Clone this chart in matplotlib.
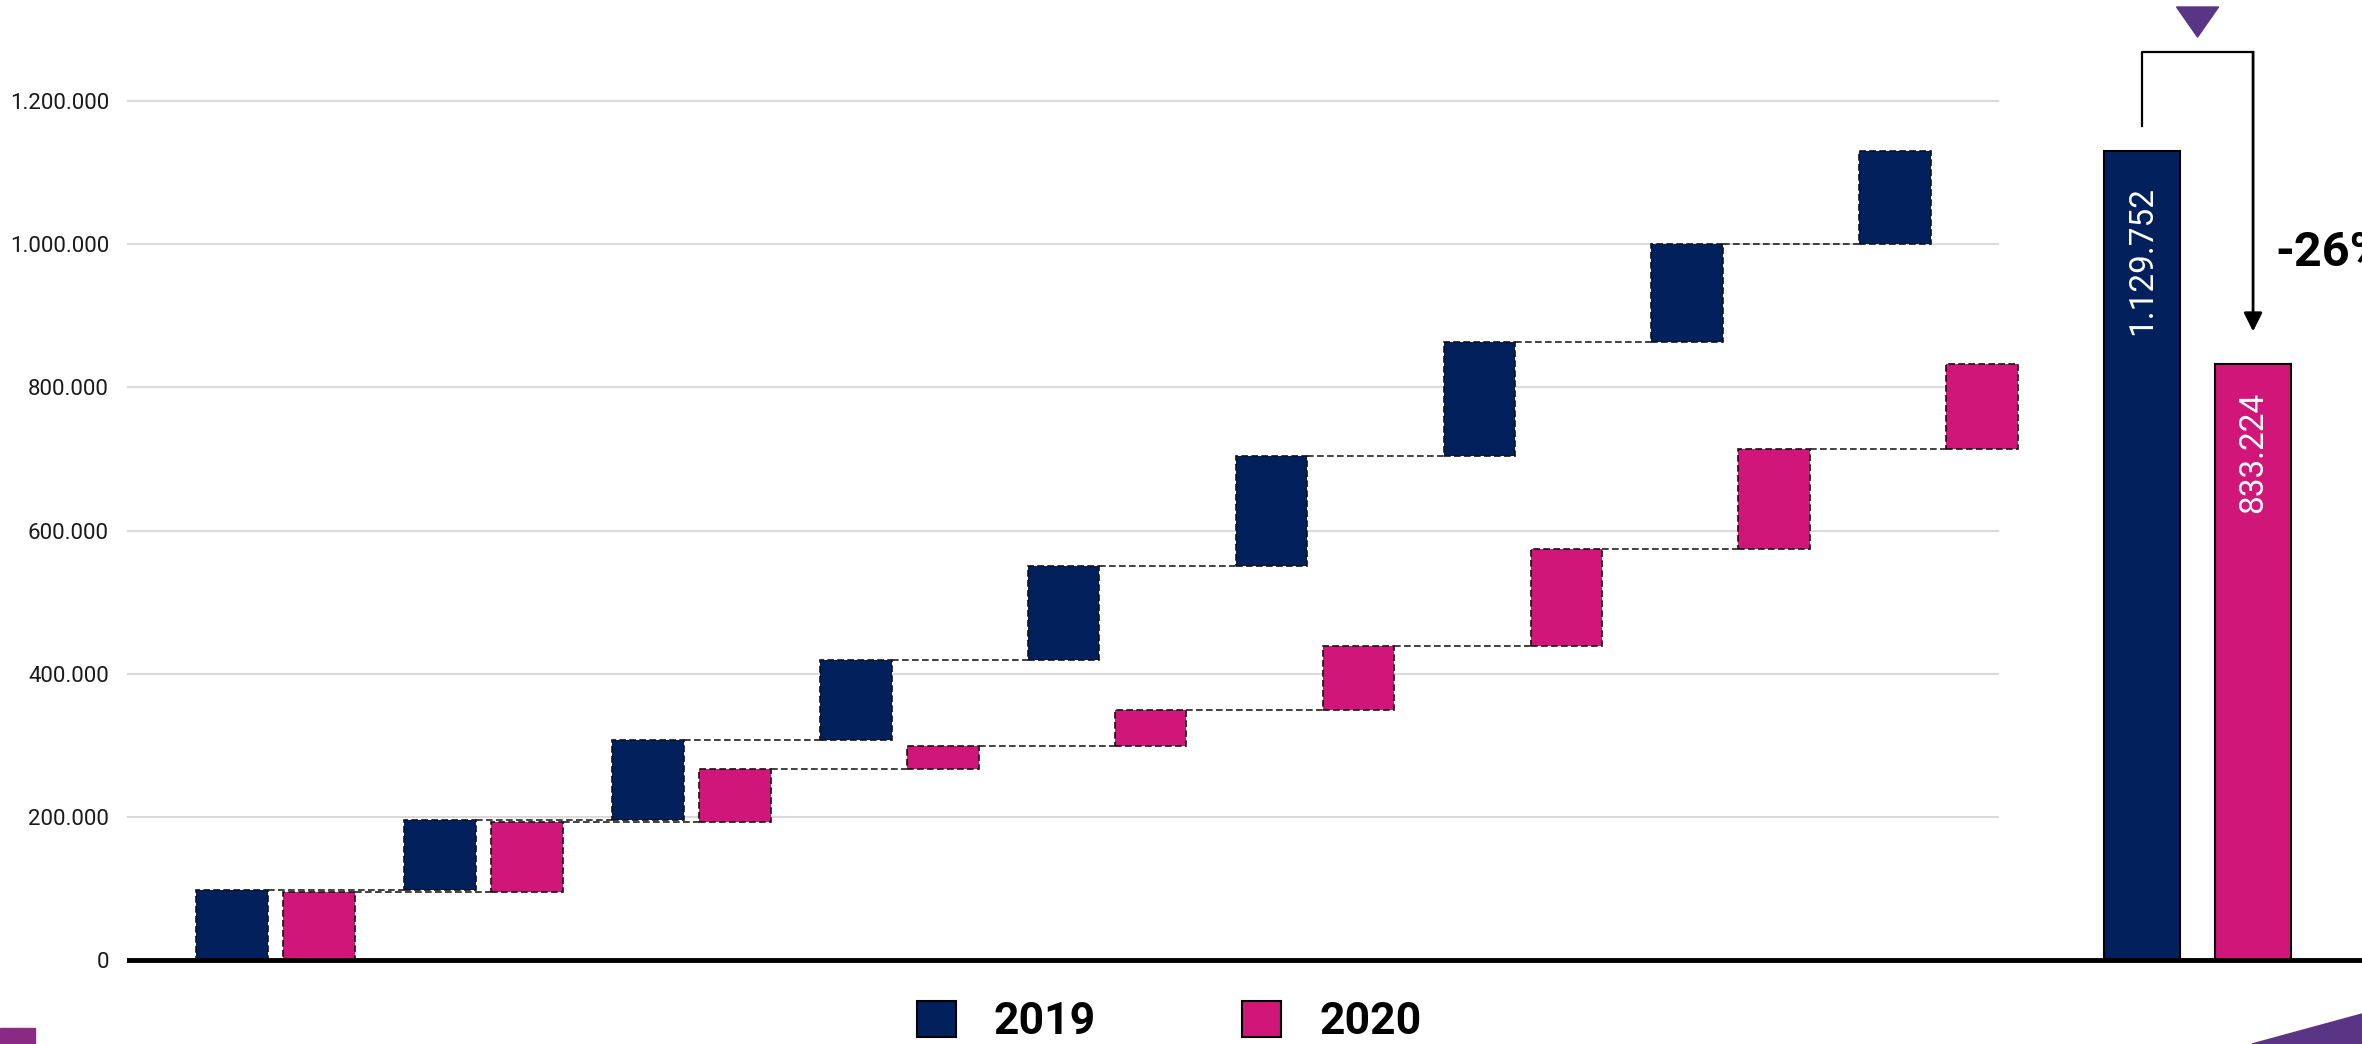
import matplotlib
matplotlib.use("Agg")
import matplotlib.pyplot as plt
from matplotlib.patches import Polygon, Rectangle, Patch
import numpy as np

plt.rcParams["font.family"] = ["Roboto", "DejaVu Sans"]

# incrementos mensais de cada ano (cascata)
inc_2019 = [97600, 97900, 112400, 111600, 131500, 153000, 159000, 137000, 129752]
inc_2020 = [94700, 98100, 74600, 31600, 50800, 88800, 136300, 138700, 119624]
anos = ["2019", "2020"]
yticks = [0, 200000, 400000, 600000, 800000, 1000000, 1200000]

AZUL = "#02205c"
ROSA = "#d1167a"
ROXO = "#5b3585"


def fmt(v):
    return f"{v:,.0f}".replace(",", ".")


fig = plt.figure(figsize=(23.62, 10.44), dpi=100)
ax = fig.add_axes([127 / 2362, 0, 1 - 127 / 2362, 1])
ax.set_xlim(-0.505, 10.245)
ax.set_ylim(-117360, 1341220)

x = np.arange(len(inc_2019))
off = 0.4185
w = 0.345

cum19 = np.cumsum(inc_2019)
cum20 = np.cumsum(inc_2020)
base19 = cum19 - np.array(inc_2019)
base20 = cum20 - np.array(inc_2020)

# grade + linha do zero
ax.hlines(yticks[1:], -0.6, 8.5, color="#dadada", lw=1.5, zorder=0)
ax.axhline(0, color="black", lw=3.5, zorder=3)

tracejado = (0, (4, 2))
ax.bar(x, inc_2019, w, bottom=base19, color=AZUL, edgecolor="#111111",
       linestyle=tracejado, linewidth=1.2, zorder=2)
ax.bar(x + off, inc_2020, w, bottom=base20, color=ROSA, edgecolor="#111111",
       linestyle=tracejado, linewidth=1.2, zorder=2)

# conectores entre os degraus
for i in range(len(x) - 1):
    ax.plot([x[i] + w / 2, x[i + 1] - w / 2], [cum19[i], cum19[i]],
            color="#222222", lw=1.2, ls=tracejado, zorder=1)
    ax.plot([x[i] + off + w / 2, x[i + 1] + off - w / 2], [cum20[i], cum20[i]],
            color="#222222", lw=1.2, ls=tracejado, zorder=1)

# totais
tot19, tot20 = cum19[-1], cum20[-1]
xt = [9.187, 9.721]
wt = 0.366
ax.bar(xt[0], tot19, wt, color=AZUL, edgecolor="black", linewidth=1.5, zorder=2)
ax.bar(xt[1], tot20, wt, color=ROSA, edgecolor="black", linewidth=1.5, zorder=2)
ax.text(xt[0], tot19 - 48000, fmt(tot19), rotation=90, ha="center", va="top",
        color="white", fontsize=24)
ax.text(xt[1], tot20 - 40000, fmt(tot20), rotation=90, ha="center", va="top",
        color="white", fontsize=24)

# seta de variação
y_top = tot19 + 138700
ax.plot([xt[0], xt[0], xt[1]], [tot19 + 36000, y_top, y_top], color="black", lw=1.6)
ax.annotate("", xy=(xt[1], tot20 + 45000), xytext=(xt[1], y_top),
            arrowprops=dict(arrowstyle="-|>", lw=2, color="black",
                            mutation_scale=28, shrinkA=0, shrinkB=0))
xm = (xt[0] + xt[1]) / 2
ax.add_patch(Polygon([(xm - 0.101, y_top + 63000), (xm + 0.101, y_top + 63000),
                      (xm, y_top + 21000)], closed=True, color=ROXO, clip_on=False))
var = (tot20 / tot19 - 1) * 100
ax.text(xt[1] + 0.106, 988000, f"{var:.0f}%", ha="left", va="center",
        fontsize=35, fontweight="bold", color="black")

ax.set_yticks(yticks)
ax.set_yticklabels([fmt(v) for v in yticks], fontsize=16, color="#1a1a1a")
ax.tick_params(axis="y", length=0, pad=13)
ax.set_xticks([])
for s in ax.spines.values():
    s.set_visible(False)

ax.legend(handles=[Patch(facecolor=AZUL, edgecolor="black", linewidth=1.5),
                   Patch(facecolor=ROSA, edgecolor="black", linewidth=1.5)],
          labels=anos, loc="center", bbox_to_anchor=(1169 / 2362, 22 / 1044),
          bbox_transform=fig.transFigure, ncol=2, frameon=False,
          prop=dict(weight="bold", size=32), handlelength=0.88,
          handleheight=0.88, handletextpad=0.85, columnspacing=3.3,
          borderpad=0, borderaxespad=0)

# detalhes roxos dos cantos
fig.patches.append(Rectangle((0, 0), 35 / 2362, 16 / 1044, transform=fig.transFigure,
                             color="#8a2a84"))
fig.patches.append(Polygon([(2252 / 2362, 0), (1, 30 / 1044), (1, 0)], closed=True,
                           transform=fig.transFigure, color=ROXO))

fig.savefig("out.png", dpi=100)
